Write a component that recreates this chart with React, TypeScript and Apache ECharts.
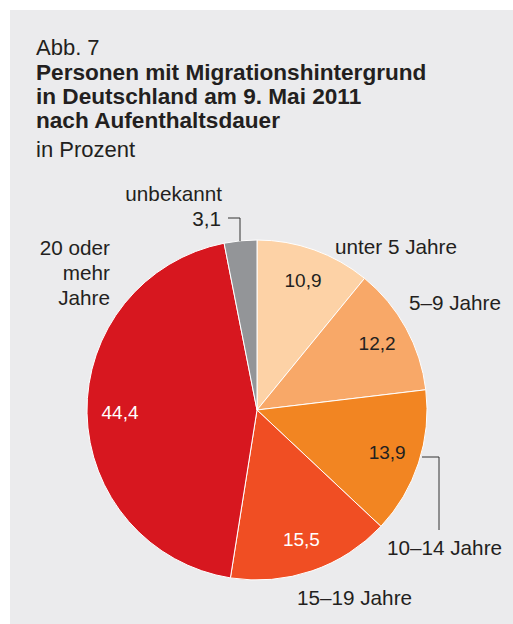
import React, { useEffect, useRef } from "react";
import * as echarts from "echarts";

const categories = ["unter 5 Jahre", "5–9 Jahre", "10–14 Jahre", "15–19 Jahre", "20 oder mehr Jahre", "unbekannt"];
const values = [10.9, 12.2, 13.9, 15.5, 44.4, 3.1];
const colors = ["#fdd2a6", "#f8a868", "#f28522", "#f04e23", "#d7171f", "#939598"];
const innerLabelColors = ["#231f20", "#231f20", "#231f20", "#ffffff", "#ffffff", "#231f20"];
const titleLines = ["Personen mit Migrationshintergrund", "in Deutschland am 9. Mai 2011", "nach Aufenthaltsdauer"];

const fmt = (v: number) => v.toFixed(1).replace(".", ",");
const FONT = "'Liberation Sans', Arial, Helvetica, sans-serif";
const TXT = "#231f20";

export default function App() {
  const ref = useRef<HTMLDivElement>(null);
  useEffect(() => {
    document.body.style.margin = "0";
    if (!ref.current) return;
    const chart = echarts.init(ref.current, null, { renderer: "svg" });
    const t = (text: string, x: number, y: number, size: number, opts: any = {}) => ({
      type: "text",
      x,
      y,
      z: 10,
      style: {
        text,
        fill: TXT,
        font: `${opts.weight || "normal"} ${size}px ${FONT}`,
        align: opts.align || "left",
        verticalAlign: "middle",
      },
    });
    const graphic: any[] = [
      { type: "rect", shape: { x: 10, y: 10, width: 503, height: 614 }, style: { fill: "#ebebed" }, z: -10 },
      t("Abb. 7", 36, 47, 22),
      ...titleLines.map((l, i) => t(l, 36, 72 + i * 24, 22.6, { weight: "bold" })),
      t("in Prozent", 36, 149, 22),
      t(categories[0], 335, 246, 20.7),
      t(categories[1], 409, 302, 20.7),
      t(categories[2], 387, 547, 20.7),
      t(categories[3], 297, 597, 20.7),
      t("20 oder", 110, 247, 20.7, { align: "right" }),
      t("mehr", 110, 272, 20.7, { align: "right" }),
      t("Jahre", 110, 297, 20.7, { align: "right" }),
      t(categories[5], 222, 193, 20.7, { align: "right" }),
      t(fmt(values[5]), 221, 218, 20.7, { align: "right" }),
      { type: "polyline", z: 10, shape: { points: [[228, 218], [240, 218], [240, 241]] }, style: { stroke: "#333", lineWidth: 1, fill: "none" } },
      { type: "polyline", z: 10, shape: { points: [[422, 457], [439, 457], [439, 530]] }, style: { stroke: "#333", lineWidth: 1, fill: "none" } },
    ];
    const data = categories.map((c, i) => ({ name: c, value: values[i], itemStyle: { color: colors[i] } }));
    chart.setOption({
      animation: false,
      graphic,
      series: [
        {
          type: "pie",
          center: [257, 410],
          radius: [0, 170],
          startAngle: 90,
          clockwise: true,
          silent: true,
          data,
          label: { show: false },
          labelLine: { show: false },
          itemStyle: { borderColor: "#ffffff", borderWidth: 1 },
        },
        {
          type: "pie",
          center: [257, 410],
          radius: [98, 170],
          startAngle: 90,
          clockwise: true,
          silent: true,
          z: 5,
          data: categories.map((c, i) => ({
            name: c,
            value: values[i],
            itemStyle: { color: "rgba(0,0,0,0)" },
            label: { show: i !== 5, color: innerLabelColors[i] },
          })),
          label: {
            position: "inside",
            formatter: (p: any) => fmt(p.value),
            fontSize: 19,
            fontFamily: FONT,
          },
          labelLine: { show: false },
        },
      ],
    });
    return () => chart.dispose();
  }, []);
  return <div ref={ref} style={{ width: 513, height: 624 }} />;
}
